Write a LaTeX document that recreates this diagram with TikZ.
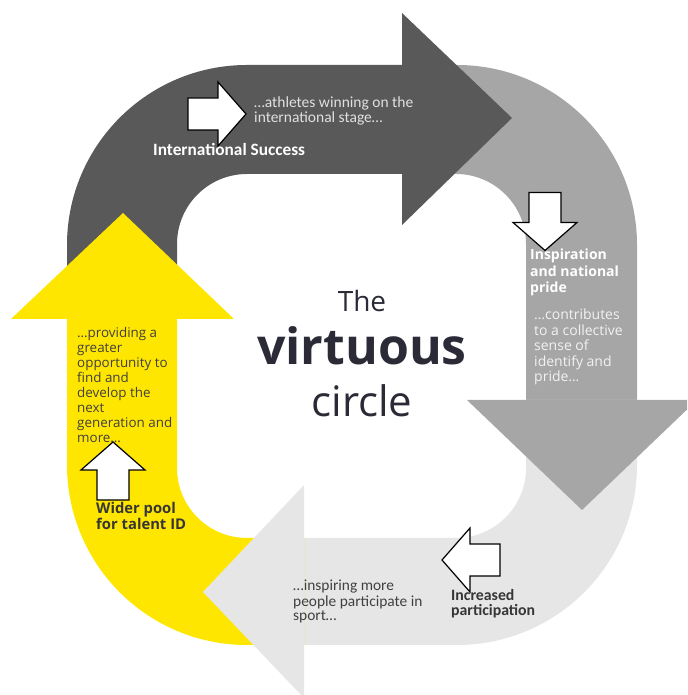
\documentclass[tikz,border=0pt]{standalone}
\usepackage{fontspec}
\setmainfont{Open Sans}
\newfontfamily\calibri{Carlito}
\usetikzlibrary{positioning}
\definecolor{darkgrey}{HTML}{595959}
\definecolor{midgrey}{HTML}{A6A6A6}
\definecolor{palegrey}{HTML}{E6E6E6}
\definecolor{sunyellow}{HTML}{FFE600}
\definecolor{titleink}{HTML}{2B2B38}
\definecolor{bodyink}{HTML}{404040}
\tikzset{
  note/.style = {inner sep=0pt, align=left, anchor=base west},
  title/.style = {inner sep=0pt, anchor=base, text=titleink},
  whitearrow/.pic = {
    \draw[fill=white, line width=1.2pt, line join=miter]
      (-29,-16) -- (1,-16) -- (1,-32) -- (29,0) -- (1,32) -- (1,16) -- (-29,16) -- cycle;
  },
}

\begin{document}
\begin{tikzpicture}[x=1pt, y=1pt]
  \useasboundingbox (0,0) rectangle (687,695);
  \clip (0,0) rectangle (687,695);

  % the four bands of the loop
  \fill[darkgrey] (67,376) -- (67,450) arc[start angle=180, end angle=90, radius=180]
    -- (402,630) -- (402,521) -- (247,521) arc[start angle=90, end angle=180, radius=70]
    -- (177,376) -- cycle;
  \fill[midgrey] (402,630) -- (457,630) arc[start angle=90, end angle=0, radius=180]
    -- (637,295) -- (526,295) -- (526,451) arc[start angle=0, end angle=90, radius=70]
    -- (402,521) -- cycle;
  \fill[palegrey] (637,295) -- (637,230) arc[start angle=0, end angle=-90, radius=180]
    -- (304,50) -- (304,157) -- (456,157) arc[start angle=-90, end angle=0, radius=70]
    -- (526,295) -- cycle;
  \fill[sunyellow] (304,50) -- (247,50) arc[start angle=-90, end angle=-180, radius=180]
    -- (67,376) -- (177,376) -- (177,227) arc[start angle=180, end angle=270, radius=70]
    -- (304,157) -- cycle;

  % heads
  \fill[darkgrey] (402,682) -- (512,577) -- (402,470) -- cycle;
  \fill[midgrey] (467,295) -- (582,185) -- (697,295) -- cycle;
  \fill[palegrey] (304,210) -- (203,103) -- (304,-3) -- cycle;
  \fill[sunyellow] (11,376) -- (123,482) -- (234,376) -- cycle;

  \node[title, font=\fontsize{28}{30}\selectfont] (the) at (362,383) {The};
  \node[title, font=\fontsize{50}{52}\selectfont\bfseries] (virtuous) at (362,330) {virtuous};
  \node[title, font=\fontsize{42}{44}\selectfont] (circle) at (362,278) {circle};

  \node[note, text=white!88!black, font=\calibri\fontsize{15.5}{15}\selectfont] (athletes) at (254,572)
    {…athletes winning on the\\international stage…};
  \node[note, text=white, font=\calibri\fontsize{17.3}{17}\selectfont\bfseries] (success) at (153,539)
    {International Success};
  \node[note, text=white, font=\fontsize{14}{16.5}\selectfont\bfseries] (pride) at (530,402)
    {Inspiration\\and national\\pride};
  \node[note, text=white!95!black, font=\fontsize{14}{15.5}\selectfont] (contributes) at (534,313)
    {…contributes\\to a collective\\sense of\\identify and\\pride…};
  \node[note, text=bodyink, font=\fontsize{13.4}{15}\selectfont] (providing) at (77,252)
    {…providing a\\greater\\opportunity to\\find and\\develop the\\next\\generation and\\more…};
  \node[note, text=bodyink!85!black, font=\fontsize{14.8}{16}\selectfont\bfseries] (wider) at (96,165)
    {Wider pool\\for talent ID};
  \node[note, text=bodyink, font=\calibri\fontsize{15.4}{15}\selectfont] (inspiring) at (293,74)
    {…inspiring more\\people participate in\\sport…};
  \node[note, text=bodyink!85!black, font=\calibri\fontsize{15.8}{15}\selectfont\bfseries] (increased) at (451,79)
    {Increased\\participation};

  \pic at (217,581) {whitearrow};
  \pic[rotate=-90] at (545,473.5) {whitearrow};
  \pic[rotate=90] at (113,224) {whitearrow};
  \pic[rotate=180] at (471,135) {whitearrow};

\end{tikzpicture}
\end{document}
